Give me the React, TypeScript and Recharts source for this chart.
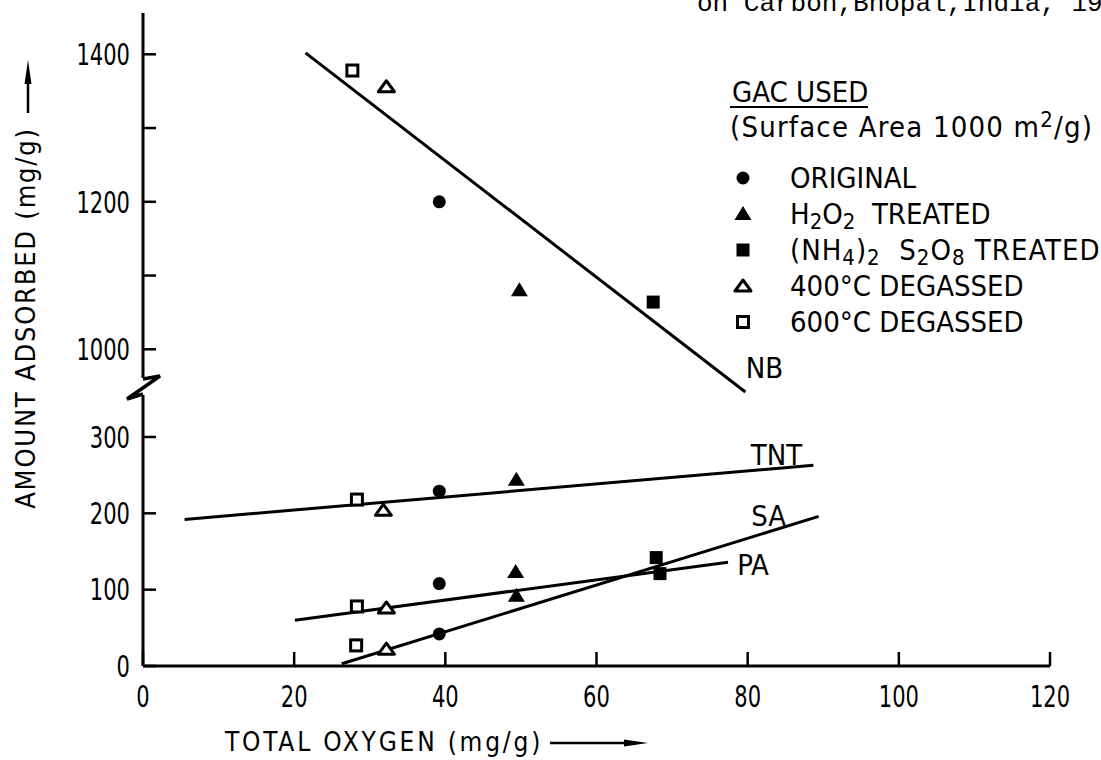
import { ComposedChart, Line, ReferenceLine, Scatter, XAxis, YAxis } from "recharts";

const FONT = "'DejaVu Sans Condensed', 'DejaVu Sans', sans-serif";
const INK = "#000";

const W = 1101;
const H = 760;
const PLOT_LEFT = 143;
const PLOT_RIGHT_GAP = 51;
const UPPER_TOP = 13;
const BREAK_Y = 395;
const AXIS_Y = 666;

// axis ticks
const xTicks = [0, 20, 40, 60, 80, 100, 120];
const upperTicks = [1000, 1100, 1200, 1300, 1400];
const upperLabelled = [1000, 1200, 1400];
const lowerTicks = [0, 100, 200, 300];
const upperDomain = [938, 1456];
const lowerDomain = [0, 355];
const upperAxisStart = 961;

// measured points (mg/g), marker kind = GAC treatment
const nbPoints = [
  { x: 27.7, y: 1378, kind: "deg600" },
  { x: 32.2, y: 1356, kind: "deg400" },
  { x: 39.2, y: 1200, kind: "original" },
  { x: 49.8, y: 1080, kind: "h2o2" },
  { x: 67.5, y: 1064, kind: "persulfate" },
];
const tntPoints = [
  { x: 28.3, y: 218, kind: "deg600" },
  { x: 31.8, y: 204, kind: "deg400" },
  { x: 39.2, y: 229, kind: "original" },
  { x: 49.4, y: 244, kind: "h2o2" },
];
const paPoints = [
  { x: 28.3, y: 78, kind: "deg600" },
  { x: 32.2, y: 76, kind: "deg400" },
  { x: 39.2, y: 108, kind: "original" },
  { x: 49.3, y: 123, kind: "h2o2" },
  { x: 68.4, y: 121, kind: "persulfate" },
];
const saPoints = [
  { x: 28.2, y: 27, kind: "deg600" },
  { x: 32.2, y: 22, kind: "deg400" },
  { x: 39.2, y: 42, kind: "original" },
  { x: 49.4, y: 92, kind: "h2o2" },
  { x: 67.9, y: 142, kind: "persulfate" },
];

// fitted lines, ends as drawn
const nbFit = [{ x: 21.5, y: 1402 }, { x: 79.7, y: 942, label: "NB" }];
const tntFit = [{ x: 5.5, y: 192 }, { x: 88.7, y: 263, label: "TNT" }];
const saFit = [{ x: 26.3, y: 3 }, { x: 89.4, y: 196, label: "SA" }];
const paFit = [{ x: 20.1, y: 60 }, { x: 77.4, y: 136, label: "PA" }];

const labelShift: Record<string, [number, number]> = {
  NB: [19, -14],
  TNT: [-37, 0],
  SA: [-50, 10],
  PA: [25, 13],
};

const legendItems = [
  { kind: "original", text: [["ORIGINAL"]] },
  { kind: "h2o2", text: [["H"], ["2", "sub"], ["O"], ["2", "sub"], ["  TREATED"]] },
  {
    kind: "persulfate",
    text: [["(NH"], ["4", "sub"], [")"], ["2", "sub"], ["  S"], ["2", "sub"], ["O"], ["8", "sub"], [" TREATED"]],
  },
  { kind: "deg400", text: [["400°C DEGASSED"]] },
  { kind: "deg600", text: [["600°C DEGASSED"]] },
];

function Marker({ kind, cx, cy }: { kind: string; cx: number; cy: number }) {
  switch (kind) {
    case "original":
      return <circle cx={cx} cy={cy} r={6.5} fill={INK} />;
    case "h2o2":
      return <path d={`M${cx},${cy - 8}L${cx + 8.5},${cy + 6}L${cx - 8.5},${cy + 6}Z`} fill={INK} />;
    case "persulfate":
      return <rect x={cx - 6.5} y={cy - 6.5} width={13} height={13} fill={INK} />;
    case "deg400":
      return (
        <path
          d={`M${cx},${cy - 6}L${cx + 8},${cy + 5}L${cx - 8},${cy + 5}Z`}
          fill="#fff"
          stroke={INK}
          strokeWidth={3}
          strokeLinejoin="round"
        />
      );
    default:
      return <rect x={cx - 5.5} y={cy - 5.5} width={11} height={11} fill="#fff" stroke={INK} strokeWidth={3} />;
  }
}

const renderMarker = (p: any) => <Marker kind={p.payload.kind} cx={p.cx} cy={p.cy} />;

const renderEndLabel = (p: any) => {
  const label = p.payload?.label;
  if (!label) return <g key={`d${p.index}`} />;
  const [dx, dy] = labelShift[label];
  return (
    <text key={label} x={p.cx + dx} y={p.cy + dy} textAnchor="middle" fontFamily={FONT} fontSize={29} fill={INK}>
      {label}
    </text>
  );
};

// the scan uses a narrow DIN-like face: squeeze digits horizontally
function NarrowTick(props: any) {
  const { x, y, payload, textAnchor, verticalAnchor, hideValues } = props;
  const v = payload?.value;
  if (hideValues && hideValues.includes(v)) return <g />;
  return (
    <g transform={`translate(${x},${y})`}>
      <text
        transform="scale(0.78,1)"
        textAnchor={textAnchor}
        dy={verticalAnchor === "start" ? "0.72em" : "0.36em"}
        fontFamily={FONT}
        fontSize={30}
        fill={INK}
      >
        {v}
      </text>
    </g>
  );
}

const tickLineStyle = { stroke: INK, strokeWidth: 2.5 };

function fitLine(data: any[]) {
  return (
    <Line
      data={data}
      dataKey="y"
      stroke={INK}
      strokeWidth={3}
      dot={renderEndLabel}
      activeDot={false}
      isAnimationActive={false}
    />
  );
}

function RichText({ parts, x, y, spacing = 0 }: { parts: string[][]; x: number; y: number; spacing?: number }) {
  let shift = 0;
  return (
    <text x={x} y={y} fontFamily={FONT} fontSize={29} fill={INK} xmlSpace="preserve" letterSpacing={spacing}>
      {parts.map(([s, mode], i) => {
        const target = mode === "sub" ? 5 : mode === "sup" ? -10 : 0;
        const dy = target - shift;
        shift = target;
        return (
          <tspan key={i} dy={dy} fontSize={mode ? 22 : 29}>
            {s}
          </tspan>
        );
      })}
    </text>
  );
}

export default function App() {
  return (
    <div style={{ position: "fixed", left: 0, top: 0, width: W, height: H, background: "#fff" }}>
      <div style={{ position: "absolute", left: 0, top: 0 }}>
        <ComposedChart
          width={W}
          height={H}
          margin={{ top: UPPER_TOP, right: PLOT_RIGHT_GAP, bottom: H - BREAK_Y, left: 0 }}
        >
          <XAxis type="number" dataKey="x" domain={[0, 120]} hide />
          <YAxis
            type="number"
            dataKey="y"
            domain={upperDomain}
            ticks={upperTicks}
            interval={0}
            width={PLOT_LEFT}
            axisLine={false}
            tickSize={-13}
            tickMargin={26}
            tickLine={tickLineStyle}
            tick={(p: any) => <NarrowTick {...p} hideValues={upperTicks.filter((t) => !upperLabelled.includes(t))} />}
          />
          <ReferenceLine
            segment={[
              { x: 0, y: upperAxisStart },
              { x: 0, y: upperDomain[1] },
            ]}
            stroke={INK}
            strokeWidth={3}
          />
          {fitLine(nbFit)}
          <Scatter data={nbPoints} dataKey="y" shape={renderMarker} isAnimationActive={false} />
        </ComposedChart>
      </div>

      <div style={{ position: "absolute", left: 0, top: 0 }}>
        <ComposedChart width={W} height={H} margin={{ top: BREAK_Y, right: PLOT_RIGHT_GAP, bottom: 0, left: 0 }}>
          <XAxis
            type="number"
            dataKey="x"
            domain={[0, 120]}
            ticks={xTicks}
            interval={0}
            height={H - AXIS_Y}
            axisLine={{ stroke: INK, strokeWidth: 3 }}
            tickSize={-14}
            tickMargin={33}
            tickLine={tickLineStyle}
            tick={(p: any) => <NarrowTick {...p} />}
          />
          <YAxis
            type="number"
            dataKey="y"
            domain={lowerDomain}
            ticks={lowerTicks}
            interval={0}
            width={PLOT_LEFT}
            axisLine={{ stroke: INK, strokeWidth: 3 }}
            tickSize={-13}
            tickMargin={26}
            tickLine={tickLineStyle}
            tick={(p: any) => <NarrowTick {...p} />}
          />
          {fitLine(tntFit)}
          {fitLine(saFit)}
          {fitLine(paFit)}
          <Scatter data={tntPoints} dataKey="y" shape={renderMarker} isAnimationActive={false} />
          <Scatter data={paPoints} dataKey="y" shape={renderMarker} isAnimationActive={false} />
          <Scatter data={saPoints} dataKey="y" shape={renderMarker} isAnimationActive={false} />
        </ComposedChart>
      </div>

      <svg width={W} height={H} style={{ position: "absolute", left: 0, top: 0, pointerEvents: "none" }}>
        {/* caption cut off at the top of the scan */}
        <text x={697} y={11} fontFamily="'Liberation Mono', 'DejaVu Sans Mono', monospace" fontSize={26} fill={INK}>
          on Carbon,Bhopal,India, 19
        </text>

        {/* axis break */}
        <polyline points="143,379 160,376 127,399 143,394" fill="none" stroke={INK} strokeWidth={3.5} strokeLinejoin="miter" />

        {/* y title + arrow */}
        <text
          transform="translate(35,318) rotate(-90)"
          textAnchor="middle"
          fontFamily={FONT}
          fontSize={27}
          letterSpacing={1.8}
          fill={INK}
        >
          AMOUNT ADSORBED (mg/g)
        </text>
        <line x1={28} y1={113} x2={28} y2={80} stroke={INK} strokeWidth={2.5} />
        <polygon points="28,60 24.5,84 31.5,84" fill={INK} />

        {/* x title + arrow */}
        <text x={225} y={751} fontFamily={FONT} fontSize={26} letterSpacing={2.8} fill={INK}>
          TOTAL OXYGEN (mg/g)
        </text>
        <line x1={550} y1={743} x2={630} y2={743} stroke={INK} strokeWidth={2.5} />
        <polygon points="648,743 624,739.5 624,746.5" fill={INK} />

        {/* legend block */}
        <text x={732} y={102} fontFamily={FONT} fontSize={29} fill={INK}>
          GAC USED
        </text>
        <line x1={730} y1={107} x2={868} y2={107} stroke={INK} strokeWidth={2} />
        <RichText parts={[["(Surface Area 1000 m"], ["2", "sup"], ["/g)"]]} x={730} y={137} spacing={1.2} />
        {legendItems.map((item, i) => (
          <g key={item.kind}>
            <Marker kind={item.kind} cx={743} cy={178 + i * 36} />
            <RichText parts={item.text} x={790} y={188 + i * 36} spacing={i === 2 ? 1 : 0} />
          </g>
        ))}
      </svg>
    </div>
  );
}
